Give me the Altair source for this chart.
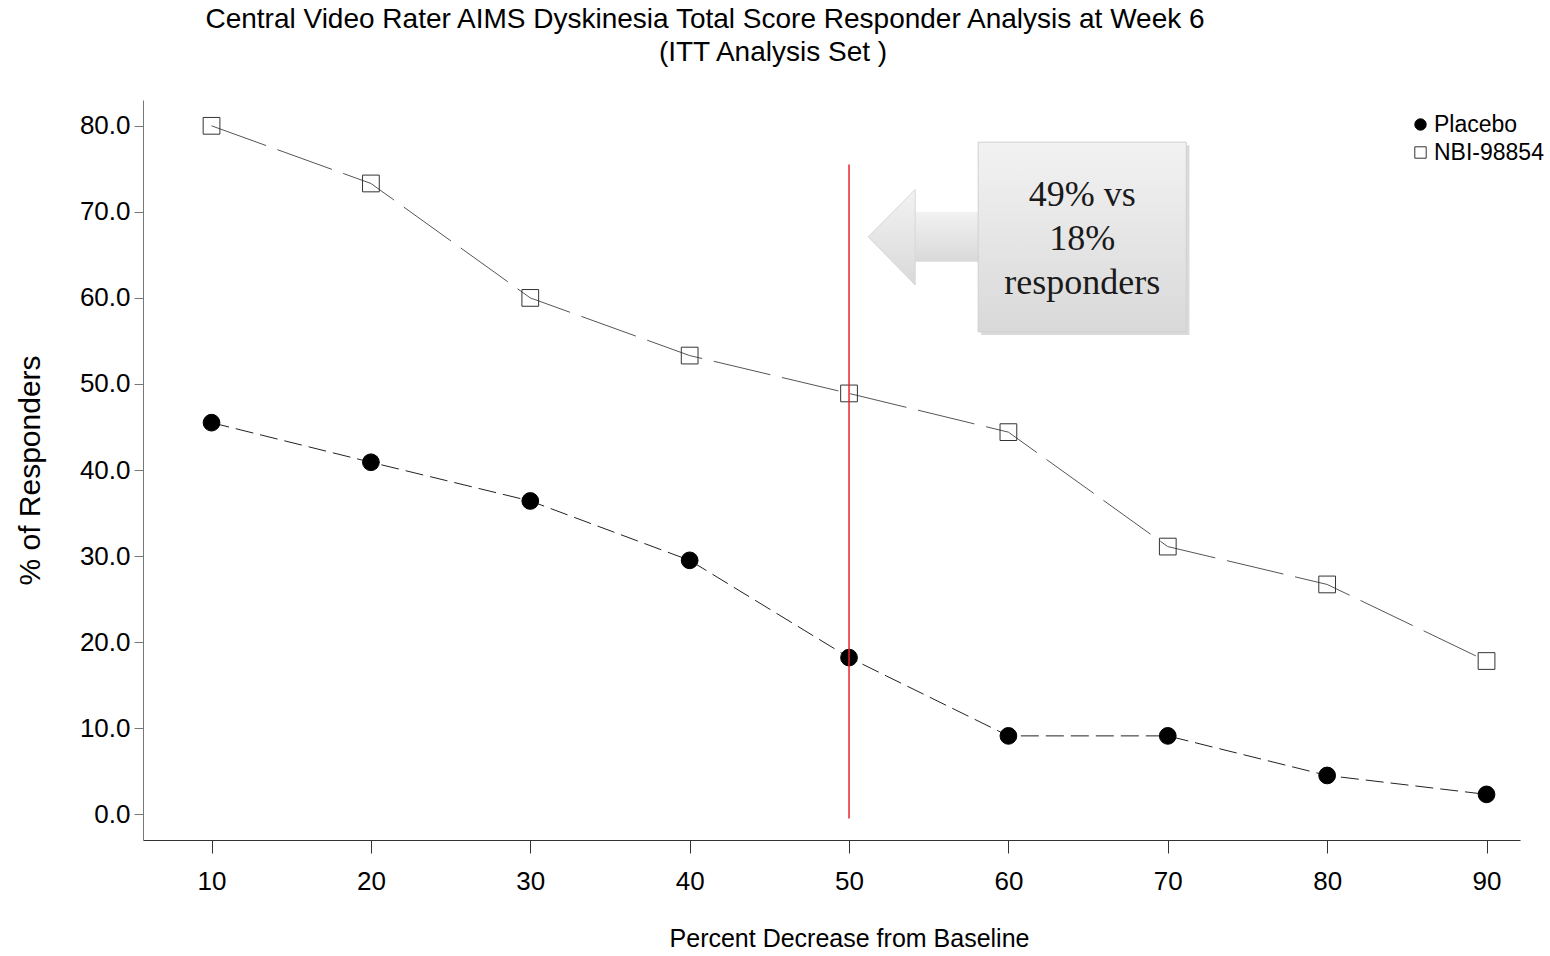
import altair as alt
import pandas as pd

# ---- data ----
thresholds = [10, 20, 30, 40, 50, 60, 70, 80, 90]
placebo = [45.5, 40.9, 36.4, 29.5, 18.2, 9.1, 9.1, 4.5, 2.3]
nbi = [80.0, 73.3, 60.0, 53.3, 48.9, 44.4, 31.1, 26.7, 17.8]
groups = ["Placebo", "NBI-98854"]
y_ticks = [0, 10, 20, 30, 40, 50, 60, 70, 80]

title_lines = ["Central Video Rater AIMS Dyskinesia Total Score Responder Analysis at Week 6",
               "(ITT Analysis Set )"]
callout_lines = ["49% vs", "18%", "responders"]

# callout geometry (data units)
box_x = [58.1, 71.16]
box_y = [56.05, 78.1]
shaft_x = [54.0, 58.2]
shaft_y = [64.2, 70.0]
head_x = [51.2, 54.15]
head_top = [67.1, 72.6]
head_bot = [67.1, 61.5]
text_x = 64.63
text_y = [72.0, 66.9, 61.7]
ref_x = 50
ref_y = [-0.5, 75.5]

df = pd.DataFrame({
    "x": thresholds * 2,
    "y": placebo + nbi,
    "group": ["Placebo"] * len(placebo) + ["NBI-98854"] * len(nbi),
})

xscale = alt.Scale(domain=[5.7, 92.1], nice=False, zero=False)
yscale = alt.Scale(domain=[-3, 83], nice=False, zero=False)

X = alt.X("x:Q", scale=xscale, axis=alt.Axis(
    values=thresholds, format="d", title="Percent Decrease from Baseline",
    tickSize=13, tickColor="#333", domainColor="#333", labelPadding=15,
    titlePadding=32, titleFontSize=25, titleX=706))
Y = alt.Y("y:Q", scale=yscale, axis=alt.Axis(
    values=y_ticks, format=".1f", title="% of Responders",
    tickSize=9, tickColor="#777", domainColor="#777", labelPadding=4,
    titlePadding=34, titleFontSize=30))

base = alt.Chart(df)

line_p = base.transform_filter(alt.datum.group == "Placebo").mark_line(
    color="#222", strokeWidth=1, strokeDash=[18, 7]).encode(x=X, y=Y)
line_n = base.transform_filter(alt.datum.group == "NBI-98854").mark_line(
    color="#555", strokeWidth=1, strokeDash=[58, 12]).encode(x=X, y=Y)

points = base.mark_point(filled=True, size=280, strokeWidth=1, opacity=1).encode(
    x=X, y=Y,
    shape=alt.Shape("group:N", scale=alt.Scale(domain=groups, range=["circle", "square"]),
                    legend=alt.Legend(title=None)),
    fill=alt.Fill("group:N", scale=alt.Scale(domain=groups, range=["#000000", "transparent"]),
                  legend=alt.Legend(title=None)),
    stroke=alt.Stroke("group:N", scale=alt.Scale(domain=groups, range=["#000000", "#333333"]),
                      legend=alt.Legend(title=None)),
)

grad = alt.Gradient(gradient="linear",
                    stops=[alt.GradientStop(color="#f2f2f2", offset=0),
                           alt.GradientStop(color="#d9d9d9", offset=1)],
                    x1=0, x2=0, y1=0, y2=1)

box_df = pd.DataFrame({"x": [box_x[0]], "x2": [box_x[1]], "y": [box_y[0]], "y2": [box_y[1]]})
shadow = alt.Chart(box_df).mark_rect(color="#b5b5b5", opacity=0.5).encode(
    x=alt.X("sx:Q", scale=xscale), x2="sx2:Q", y=alt.Y("sy:Q", scale=yscale), y2="sy2:Q"
).transform_calculate(sx="datum.x + 0.2", sx2="datum.x2 + 0.2",
                      sy="datum.y - 0.35", sy2="datum.y2 - 0.35")
box = alt.Chart(box_df).mark_rect(fill=grad, stroke="#d0d0d0", strokeWidth=1).encode(
    x=alt.X("x:Q", scale=xscale), x2="x2:Q", y=alt.Y("y:Q", scale=yscale), y2="y2:Q")

shaft_df = pd.DataFrame({"x": [shaft_x[0]], "x2": [shaft_x[1]], "y": [shaft_y[0]], "y2": [shaft_y[1]]})
shaft = alt.Chart(shaft_df).mark_rect(fill=grad).encode(
    x=alt.X("x:Q", scale=xscale), x2="x2:Q", y=alt.Y("y:Q", scale=yscale), y2="y2:Q")

head_df = pd.DataFrame({"x": head_x, "y": head_top, "y2": head_bot})
head = alt.Chart(head_df).mark_area(fill=grad, stroke="#d8d8d8", strokeWidth=1).encode(
    x=alt.X("x:Q", scale=xscale), y=alt.Y("y:Q", scale=yscale), y2="y2:Q")

ctext_df = pd.DataFrame({"x": [text_x] * len(callout_lines), "y": text_y, "t": callout_lines})
ctext = alt.Chart(ctext_df).mark_text(font="Liberation Serif", fontSize=36, color="#1a1a1a",
                                      align="center", baseline="middle").encode(
    x=alt.X("x:Q", scale=xscale), y=alt.Y("y:Q", scale=yscale), text="t:N")

rule_df = pd.DataFrame({"x": [ref_x], "y": [ref_y[0]], "y2": [ref_y[1]]})
rule = alt.Chart(rule_df).mark_rule(color="#e8232b", strokeWidth=1.5).encode(
    x=alt.X("x:Q", scale=xscale), y=alt.Y("y:Q", scale=yscale), y2="y2:Q")

t1 = alt.Chart(pd.DataFrame({"t": [title_lines[0]]})).mark_text(
    font="Liberation Sans", fontSize=28, color="black", align="center", baseline="middle").encode(
    text="t:N", x=alt.value(562), y=alt.value(-80))
t2 = alt.Chart(pd.DataFrame({"t": [title_lines[1]]})).mark_text(
    font="Liberation Sans", fontSize=28, color="black", align="center", baseline="middle").encode(
    text="t:N", x=alt.value(630), y=alt.value(-47))

chart = alt.layer(
    line_p, line_n, shadow, shaft, head, box, ctext, points, rule, t1, t2
).properties(
    width=1377, height=740,
    autosize=alt.AutoSizeParams(type="none"),
    padding={"left": 143, "top": 100, "right": 30, "bottom": 116},
).configure_view(stroke=None).configure_axis(
    grid=False, labelFont="Liberation Sans", titleFont="Liberation Sans",
    labelFontSize=26, labelColor="black", titleColor="black", titleFontWeight="normal",
).configure_legend(
    orient="none", legendX=1266, legendY=13, padding=0,
    labelFont="Liberation Sans", labelFontSize=23, labelColor="black",
    symbolSize=130, symbolStrokeWidth=1,
    rowPadding=4, labelOffset=2,
)

chart.save("out.html", embed_options={"renderer": "svg", "actions": False})
